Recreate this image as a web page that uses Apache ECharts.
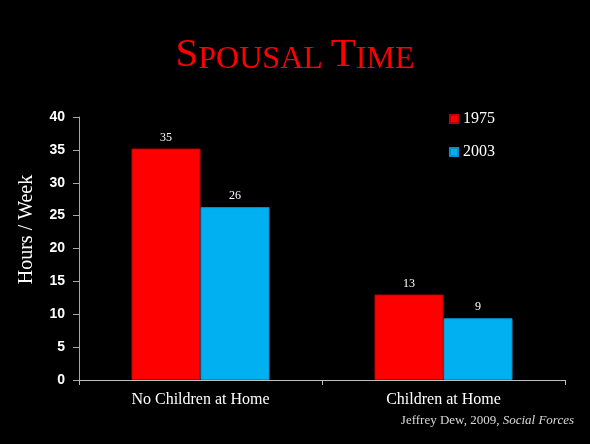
<!DOCTYPE html>
<html>
<head>
<meta charset="utf-8">
<script src="https://cdn.jsdelivr.net/npm/echarts@6/dist/echarts.min.js"></script>
<style>
html,body{margin:0;padding:0;background:#000;}
#chart{width:590px;height:444px;}
</style>
</head>
<body>
<div id="chart"></div>
<script>
var categories = ['No Children at Home', 'Children at Home'];
var seriesNames = ['1975', '2003'];
var values1975 = [35.2, 13.0];
var values2003 = [26.3, 9.4];
var yTicks = {min: 0, max: 40, interval: 5};

var serif = '"Liberation Serif", "Times New Roman", serif';
var sans = '"Liberation Sans", Arial, sans-serif';

var chart = echarts.init(document.getElementById('chart'));
var labelOpt = {
  show: true, position: 'top', color: '#ffffff', fontFamily: serif, fontSize: 12, distance: 5,
  formatter: function (p) { return Math.round(p.value); }
};
chart.setOption({
  backgroundColor: '#000000',
  animation: false,
  title: {
    text: '{big|S}{small|POUSAL }{big|T}{small|IME}',
    left: 'center',
    top: 30,
    textStyle: {
      fontWeight: 'normal',
      rich: {
        big: {fontFamily: serif, fontSize: 41, fontWeight: 'normal', color: '#ff0000', verticalAlign: 'bottom'},
        small: {fontFamily: serif, fontSize: 32, fontWeight: 'normal', color: '#ff0000', verticalAlign: 'bottom'}
      }
    }
  },
  legend: {
    orient: 'vertical',
    left: 444,
    top: 106,
    itemWidth: 8,
    itemHeight: 8,
    itemGap: 17,
    icon: 'rect',
    data: seriesNames,
    textStyle: {color: '#ffffff', fontFamily: serif, fontSize: 16}
  },
  graphic: [{
    type: 'text',
    right: 16,
    top: 414,
    style: {
      text: 'Jeffrey Dew, 2009, {i|Social Forces}',
      fill: '#d9d9d9',
      font: '13px ' + serif,
      rich: {i: {fontStyle: 'italic', fontFamily: serif, fontSize: 13, fill: '#d9d9d9'}}
    }
  }],
  grid: {left: 79, right: 25, top: 117, bottom: 64},
  xAxis: {
    type: 'category',
    data: categories,
    axisLine: {lineStyle: {color: '#bfbfbf', width: 1}},
    axisTick: {show: true, length: 5, lineStyle: {color: '#bfbfbf'}},
    axisLabel: {color: '#ffffff', fontFamily: serif, fontSize: 16, margin: 12}
  },
  yAxis: {
    type: 'value',
    min: yTicks.min, max: yTicks.max, interval: yTicks.interval,
    name: 'Hours / Week',
    nameLocation: 'middle',
    nameRotate: 90,
    nameGap: 42,
    nameTextStyle: {color: '#ffffff', fontFamily: serif, fontSize: 20, padding: [0, 0, 0, 38]},
    axisLine: {show: true, lineStyle: {color: '#a6a6a6', width: 1}},
    axisTick: {show: true, length: 6, lineStyle: {color: '#a6a6a6'}},
    splitLine: {show: false},
    axisLabel: {color: '#ffffff', fontFamily: sans, fontWeight: 'bold', fontSize: 14, margin: 14}
  },
  series: [
    {name: seriesNames[0], type: 'bar', data: values1975, barWidth: 69, barGap: '0%',
     itemStyle: {color: '#ff0000', borderColor: '#c00000', borderWidth: 1}, label: labelOpt},
    {name: seriesNames[1], type: 'bar', data: values2003, barWidth: 69, barGap: '0%',
     itemStyle: {color: '#00b0f0', borderColor: '#0090c8', borderWidth: 1}, label: labelOpt}
  ]
});
</script>
</body>
</html>
